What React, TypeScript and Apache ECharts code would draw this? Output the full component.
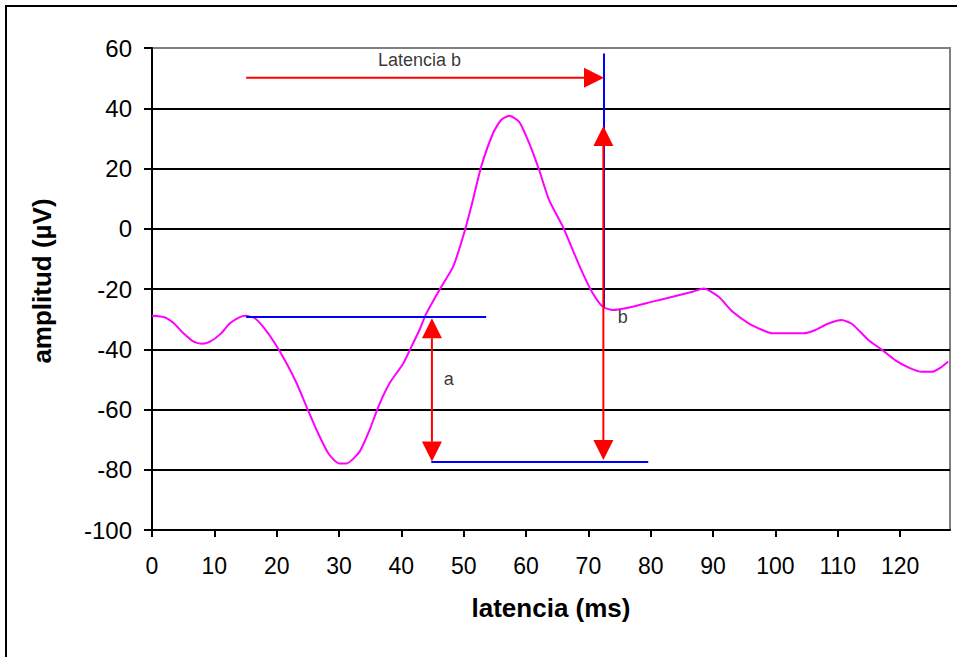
import React, { useEffect, useRef } from "react";
import * as echarts from "echarts";

// Waveform: latency (ms) and amplitude (µV)
const latency = [0, 2, 3.5, 5, 6.7, 8, 9.3, 11, 12.5, 14, 15, 16.5, 18, 19.7, 21.6, 23.2, 24.8, 26.4, 28.3, 30, 31.2, 33.3, 34.9, 36.3, 38.1, 40.3, 41.6, 42.9, 44, 46.1, 48.3, 49.9, 51.2, 52.8, 54.7, 56, 57.3, 58.9, 60.5, 62.1, 63.7, 65.9, 67.5, 69.1, 70.7, 72.3, 73.9, 77.1, 80.3, 83.5, 86.7, 88.5, 90.9, 93.1, 95.7, 97.9, 99.5, 104.5, 106.4, 108.3, 110.6, 112.3, 114.9, 117.1, 119.2, 121.3, 123.5, 125.1, 126.7, 127.7];
const amplitude = [-28.9, -29.4, -31.4, -34.6, -37.5, -38.2, -37.5, -34.9, -31.4, -29.4, -28.9, -29.7, -33, -38, -44.7, -51.3, -59.1, -66.8, -74.6, -77.9, -77.9, -74, -66.8, -59.1, -51.3, -44.7, -39.2, -33.6, -28.1, -20.3, -12.6, -2.6, 7.3, 20.6, 31.7, 36.1, 37.5, 35.5, 28.4, 19.5, 9.5, 0.7, -7.1, -14.8, -21.4, -25.9, -27, -25.9, -24.2, -22.6, -20.9, -19.8, -22.6, -27.5, -31.4, -33.6, -34.7, -34.7, -33.6, -31.6, -30.3, -31.6, -36.9, -40.2, -43.6, -46, -47.5, -47.5, -45.8, -44.1];

// Tick labels
const xTicks = [0, 10, 20, 30, 40, 50, 60, 70, 80, 90, 100, 110, 120];
const yTicks = [-100, -80, -60, -40, -20, 0, 20, 40, 60];

// Reference (blue) lines: [x1, y1, x2, y2]
const blueLines = [
  [15.1, -29.3, 53.6, -29.3],
  [44.8, -77.3, 79.6, -77.3],
  [72.4, 58.2, 72.4, -26],
];

// Red arrows: [x1, y1, x2, y2, heads(1 = end, 2 = both)]
const redArrows = [
  [15.1, 50.1, 72.5, 50.1, 1],
  [44.9, -29.7, 44.9, -77.3, 2],
  [72.4, 34.1, 72.4, -76.8, 2],
];

// Annotation labels
const labelNames = ["Latencia b", "a", "b"];
const labelX = [42.9, 47.6, 75.5];
const labelY = [56, -50, -29.2];

const FONT = "'Liberation Sans', Arial, sans-serif";

export default function App() {
  const ref = useRef<HTMLDivElement>(null);

  useEffect(() => {
    if (!ref.current) return;
    const chart = echarts.init(ref.current, null, { renderer: "svg" });

    const renderArrow = (_params: any, api: any) => {
      const p1 = api.coord([api.value(0), api.value(1)]);
      const p2 = api.coord([api.value(2), api.value(3)]);
      const both = api.value(4) === 2;
      const dx = p2[0] - p1[0];
      const dy = p2[1] - p1[1];
      const len = Math.hypot(dx, dy) || 1;
      const ux = dx / len;
      const uy = dy / len;
      const nx = -uy;
      const ny = ux;
      const L = 20;
      const H = 10;
      const head = (tip: number[], sx: number, sy: number) => ({
        type: "polygon",
        shape: {
          points: [
            [tip[0], tip[1]],
            [tip[0] - sx * L + nx * H, tip[1] - sy * L + ny * H],
            [tip[0] - sx * L - nx * H, tip[1] - sy * L - ny * H],
          ],
        },
        style: { fill: "#ff0000" },
      });
      const s = both ? [p1[0] + ux * L, p1[1] + uy * L] : p1;
      const e = [p2[0] - ux * L, p2[1] - uy * L];
      const children: any[] = [
        {
          type: "line",
          shape: { x1: s[0], y1: s[1], x2: e[0], y2: e[1] },
          style: { stroke: "#ff0000", lineWidth: 2 },
        },
        head(p2, ux, uy),
      ];
      if (both) children.push(head(p1, -ux, -uy));
      return { type: "group", children };
    };

    const splitColors = yTicks.map((v) => (v === 60 ? "#808080" : "#000000"));

    chart.setOption({
      animation: false,
      backgroundColor: "#ffffff",
      graphic: [
        {
          type: "rect",
          shape: { x: 6, y: 6, width: 980, height: 680 },
          style: { fill: "none", stroke: "#000", lineWidth: 2 },
          silent: true,
        },
      ],
      grid: {
        left: 152,
        top: 48,
        right: 7,
        bottom: 127,
        show: true,
        borderColor: "#808080",
        borderWidth: 2,
        backgroundColor: "transparent",
      },
      xAxis: {
        type: "value",
        min: 0,
        max: 128,
        interval: 10,
        name: "latencia (ms)",
        nameLocation: "middle",
        nameGap: 65,
        nameTextStyle: { fontFamily: FONT, fontSize: 26, fontWeight: "bold", color: "#000" },
        axisLine: { show: true, onZero: false, lineStyle: { color: "#000", width: 2 } },
        axisTick: { show: true, length: 7, lineStyle: { color: "#000", width: 2 }, customValues: xTicks },
        axisLabel: { fontFamily: FONT, fontSize: 23, color: "#000", margin: 24, customValues: xTicks },
        splitLine: { show: false },
      },
      yAxis: {
        type: "value",
        min: -100,
        max: 60,
        interval: 20,
        name: "amplitud (µV)",
        nameLocation: "middle",
        nameRotate: 90,
        nameGap: 97,
        nameTextStyle: {
          fontFamily: FONT,
          fontSize: 26,
          fontWeight: "bold",
          color: "#000",
          padding: [0, 0, 0, 16],
        },
        axisLine: { show: true, onZero: false, lineStyle: { color: "#000", width: 2 } },
        axisTick: { show: true, length: 8, lineStyle: { color: "#000", width: 2 } },
        axisLabel: { fontFamily: FONT, fontSize: 24, color: "#000", margin: 20 },
        splitLine: { show: true, lineStyle: { color: splitColors, width: 2 } },
      },
      series: [
        {
          type: "line",
          data: latency.map((x, i) => [x, amplitude[i]]),
          showSymbol: false,
          smooth: 0.2,
          lineStyle: { color: "#ff00ff", width: 2 },
          z: 3,
        },
        {
          type: "lines",
          coordinateSystem: "cartesian2d",
          data: blueLines.map((l) => ({ coords: [[l[0], l[1]], [l[2], l[3]]] })),
          lineStyle: { color: "#0000ff", width: 2, opacity: 1 },
          z: 4,
        },
        {
          type: "custom",
          renderItem: renderArrow,
          data: redArrows,
          encode: { x: [0, 2], y: [1, 3] },
          z: 5,
        },
        {
          type: "scatter",
          symbolSize: 0,
          data: labelNames.map((n, i) => ({ name: n, value: [labelX[i], labelY[i]] })),
          label: {
            show: true,
            position: "inside",
            formatter: "{b}",
            fontFamily: FONT,
            fontSize: 18,
            color: "#000",
          },
          z: 6,
        },
      ],
    });

    return () => chart.dispose();
  }, []);

  return (
    <div
      ref={ref}
      style={{ position: "fixed", left: 0, top: 0, width: 957, height: 657 }}
    />
  );
}
